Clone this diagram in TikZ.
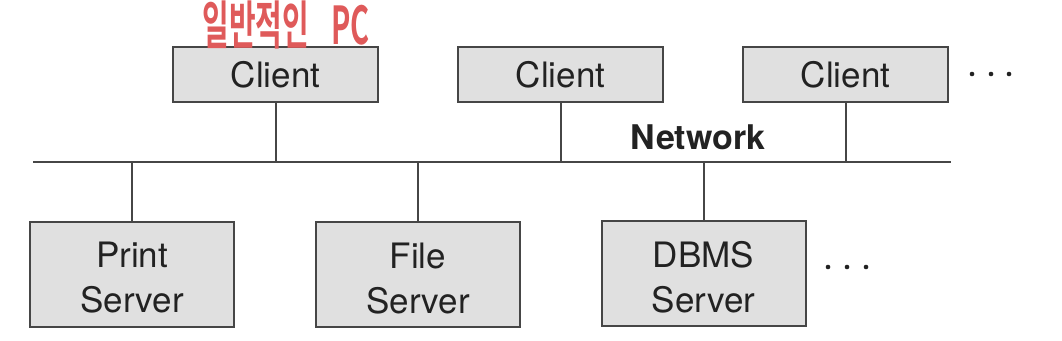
\documentclass[tikz,border=0pt]{standalone}
\usepackage{fontspec}
\setmainfont{TeX Gyre Heros}
\newfontfamily\krfont{Noto Sans CJK KR Bold}
\definecolor{boxfill}{HTML}{E0E0E0}
\definecolor{boxline}{HTML}{464646}
\definecolor{txt}{HTML}{222222}
\definecolor{handred}{HTML}{DF5A5A}
\begin{document}
\begin{tikzpicture}[x=1pt,y=-1pt,
  unitbox/.style={draw=boxline, line width=2pt, fill=boxfill, text=txt,
    rectangle, inner sep=0pt, align=center,
    font=\fontsize{35}{45}\selectfont},
  clientbox/.style={unitbox, minimum width=205pt, minimum height=55pt},
  serverbox/.style={unitbox, minimum width=204pt, minimum height=105pt, text height=78pt},
  wire/.style={draw=boxline, line width=2pt}]
\useasboundingbox (0,0) rectangle (1062,340);
% clients
\node[clientbox] (c1) at (275.5,74.5) {Client};
\node[clientbox] (c2) at (560.5,74.5) {Client};
\node[clientbox] (c3) at (845.5,74.5) {Client};
% servers
\node[serverbox] (ps) at (132,274) {Print\\Server};
\node[serverbox] (fs) at (418,274.5) {File\\Server};
\node[serverbox] (ds) at (703.5,273.5) {DBMS\\Server};
% network bus
\coordinate (netL) at (33,161.5);
\coordinate (netR) at (951,161.5);
\draw[wire] (netL) -- (netR);
\node[anchor=base, text=txt, font=\fontsize{34}{40}\selectfont\bfseries] (net) at (698,149.5) {Network};
% drops
\foreach \n in {c1,c2,c3} \draw[wire] (\n.south) -- (\n.south |- netL);
\foreach \n in {ps,fs,ds} \draw[wire] (\n.north) -- (\n.north |- netL);
% ellipses
\foreach \x in {972,991,1009} \fill[txt] (\x,74) circle (2.3);
\foreach \x in {828,847,866} \fill[txt] (\x,267) circle (2.3);
% handwritten note
\node[text=handred, inner sep=0pt, font=\krfont\fontsize{29}{30}\selectfont] (note) at (286,25)
  {\scalebox{1}[1.8]{일반적인\hspace{22pt}PC}};
\end{tikzpicture}
\end{document}
